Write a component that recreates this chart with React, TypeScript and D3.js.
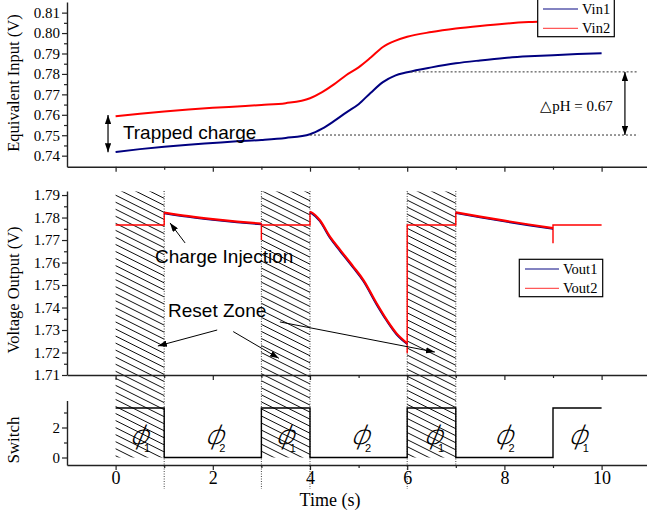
import React, { useRef, useEffect } from 'react';
import * as d3 from 'd3';

// top panel: equivalent input
const tIn = [0, 0.5, 1, 1.5, 2, 2.5, 3, 3.5, 4, 4.25, 4.5, 4.75, 5, 5.25, 5.5, 5.75, 6, 6.5, 7, 7.5, 8, 8.5, 9, 9.5, 10];
const vin1 = [0.7418, 0.7432, 0.7444, 0.7454, 0.7462, 0.747, 0.7477, 0.7487, 0.7505, 0.7532, 0.757, 0.7612, 0.7652, 0.7708, 0.776, 0.7792, 0.7808, 0.7832, 0.7852, 0.7866, 0.7878, 0.7886, 0.7892, 0.7897, 0.7901];
const vin2 = [0.7593, 0.7605, 0.7616, 0.7626, 0.7634, 0.7641, 0.7648, 0.7657, 0.7681, 0.7711, 0.775, 0.7795, 0.7832, 0.788, 0.7932, 0.7962, 0.7982, 0.8005, 0.8022, 0.8035, 0.8046, 0.8054, 0.8059, 0.8063, 0.8066];
const dpHLevels = [0.7501, 0.781];

// middle panel: voltage output
const holdLevel = 1.7767;
const decay1T = [1, 1.5, 2, 2.5, 3];
const decay1Vout1 = [1.7819, 1.7803, 1.779, 1.7779, 1.777];
const decay1Vout2 = [1.7822, 1.7806, 1.7793, 1.7782, 1.7773];
const decay2T = [4, 4.03, 4.2, 4.41, 4.62, 4.89, 5.1, 5.37, 5.58, 5.78, 6];
const decay2Vout1 = [1.7823, 1.7819, 1.7785, 1.771, 1.7651, 1.7577, 1.7517, 1.7414, 1.7341, 1.7281, 1.7238];
const decay2Vout2 = [1.7826, 1.7823, 1.7789, 1.7715, 1.7656, 1.7582, 1.7522, 1.7419, 1.7345, 1.7285, 1.7241];
const decay3T = [7, 7.5, 8, 8.5, 9];
const decay3Vout1 = [1.782, 1.7801, 1.7783, 1.7766, 1.775];
const decay3Vout2 = [1.7823, 1.7804, 1.7786, 1.7769, 1.7753];
const holdSegT = [[0, 1, 1], [3, 3, 3, 4, 4], [6, 6, 6, 7, 7], [9, 9, 9, 10]];
const holdSegV = [
  [holdLevel, holdLevel, 1.7822],
  [1.7773, 1.77, holdLevel, holdLevel, 1.7826],
  [1.7241, 1.7197, holdLevel, holdLevel, 1.7823],
  [1.7753, 1.7686, holdLevel, holdLevel],
];

// bottom panel: switch
const switchT = [0, 1, 1, 3, 3, 4, 4, 6, 6, 7, 7, 9, 9, 10];
const switchV = [3.3, 3.3, 0, 0, 3.3, 3.3, 0, 0, 3.3, 3.3, 0, 0, 3.3, 3.3];
const phaseCenters = [0.45, 2, 3.45, 5, 6.5, 7.95, 9.48];
const phaseIndex = ['1', '2', '1', '2', '1', '2', '1'];

const resetZones = [[0, 1], [3, 4], [6, 7]];
const dottedT = [1, 3, 4, 6, 7];

const xMajor = [0, 2, 4, 6, 8, 10];
const xMinor = [1, 3, 5, 7, 9];
const topMajor = [0.74, 0.75, 0.76, 0.77, 0.78, 0.79, 0.8, 0.81];
const topMinor = [0.745, 0.755, 0.765, 0.775, 0.785, 0.795, 0.805];
const midMajor = [1.71, 1.72, 1.73, 1.74, 1.75, 1.76, 1.77, 1.78, 1.79];
const midMinor = [1.715, 1.725, 1.735, 1.745, 1.755, 1.765, 1.775, 1.785];
const botMajor = [0, 2];
const botMinor = [1, 3];

const SERIF = 'Liberation Serif, Times New Roman, serif';
const SANS = 'Liberation Sans, Arial, sans-serif';
const NAVY = '#000080';
const RED = '#ff0000';

function App() {
  const svgRef = useRef<SVGSVGElement>(null);

  useEffect(() => {
    const svg = d3.select(svgRef.current);
    svg.selectAll('*').remove();

    const x = d3.scaleLinear().domain([-1, 11]).range([67, 650.2]);
    const yTop = d3.scaleLinear().domain([0.7346, 0.8152]).range([166.7, 2]);
    const yMid = d3.scaleLinear().domain([1.71, 1.7918]).range([375, 191]);
    const yBot = d3.scaleLinear().domain([-0.5, 3.8]).range([465, 400.5]);

    const defs = svg.append('defs');
    const pat = defs.append('pattern')
      .attr('id', 'hatch')
      .attr('patternUnits', 'userSpaceOnUse')
      .attr('width', 8)
      .attr('height', 6.3)
      .attr('patternTransform', 'rotate(26.57)');
    pat.append('line')
      .attr('x1', 0).attr('x2', 8).attr('y1', 3.15).attr('y2', 3.15)
      .attr('stroke', '#000').attr('stroke-width', 0.9);
    defs.append('marker')
      .attr('id', 'arrow')
      .attr('viewBox', '0 0 10 7')
      .attr('refX', 10).attr('refY', 3.5)
      .attr('markerWidth', 9).attr('markerHeight', 6.3)
      .attr('markerUnits', 'userSpaceOnUse')
      .attr('orient', 'auto-start-reverse')
      .append('path').attr('d', 'M0,0 L10,3.5 L0,7 Z').attr('fill', '#000');

    // hatched reset zones
    svg.append('g').selectAll('rect')
      .data(resetZones)
      .enter().append('rect')
      .attr('x', d => x(d[0]))
      .attr('width', d => x(d[1]) - x(d[0]))
      .attr('y', yMid.range()[1] + 0.5)
      .attr('height', yBot(0) - yMid.range()[1] - 0.5)
      .attr('fill', 'url(#hatch)');

    // dotted zone boundaries
    svg.append('g').selectAll('line')
      .data(dottedT)
      .enter().append('line')
      .attr('x1', d => x(d)).attr('x2', d => x(d))
      .attr('y1', yMid.range()[1]).attr('y2', d => (d === 7 ? yBot.range()[0] : 489))
      .attr('stroke', '#444').attr('stroke-width', 1).attr('stroke-dasharray', '1,1.5');

    const line = (ys: d3.ScaleLinear<number, number>, curve = d3.curveLinear) =>
      d3.line<[number, number]>().x(d => x(d[0])).y(d => ys(d[1])).curve(curve);
    const zip = (a: number[], b: number[]) => a.map((v, i) => [v, b[i]] as [number, number]);

    // top panel curves
    const topLine = line(yTop, d3.curveMonotoneX);
    svg.append('path').attr('d', topLine(zip(tIn, vin2))).attr('fill', 'none').attr('stroke', RED).attr('stroke-width', 2);
    svg.append('path').attr('d', topLine(zip(tIn, vin1))).attr('fill', 'none').attr('stroke', NAVY).attr('stroke-width', 2);

    // dpH guides
    const guideStart = [4, 6.07];
    dpHLevels.forEach((lv, i) => {
      svg.append('line')
        .attr('x1', x(guideStart[i])).attr('x2', x(10.75))
        .attr('y1', yTop(lv)).attr('y2', yTop(lv))
        .attr('stroke', '#333').attr('stroke-width', 1).attr('stroke-dasharray', '2,2');
    });
    svg.append('line')
      .attr('x1', x(10.48)).attr('x2', x(10.48))
      .attr('y1', yTop(dpHLevels[1])).attr('y2', yTop(dpHLevels[0]))
      .attr('stroke', '#000').attr('stroke-width', 1.2)
      .attr('marker-start', 'url(#arrow)').attr('marker-end', 'url(#arrow)');
    svg.append('text')
      .attr('x', x(10.23)).attr('y', yTop(0.7621))
      .attr('text-anchor', 'end').attr('font-family', SERIF).attr('font-size', 15)
      .text('△pH = 0.67');

    // trapped charge
    svg.append('line')
      .attr('x1', x(-0.156)).attr('x2', x(-0.156))
      .attr('y1', yTop(0.7599)).attr('y2', yTop(0.7417))
      .attr('stroke', '#000').attr('stroke-width', 1.2)
      .attr('marker-start', 'url(#arrow)').attr('marker-end', 'url(#arrow)');
    svg.append('text')
      .attr('x', x(0.15)).attr('y', yTop(0.7482))
      .attr('font-family', SANS).attr('font-size', 19)
      .text('Trapped charge');

    // middle panel curves
    const midLine = line(yMid, d3.curveMonotoneX);
    const midStep = line(yMid);
    holdSegT.forEach((ts, i) => {
      svg.append('path').attr('d', midStep(zip(ts, holdSegV[i])))
        .attr('fill', 'none').attr('stroke', RED).attr('stroke-width', 1.4);
    });
    [[decay1T, decay1Vout1, decay1Vout2], [decay2T, decay2Vout1, decay2Vout2], [decay3T, decay3Vout1, decay3Vout2]]
      .forEach(([ts, v1, v2]) => {
        svg.append('path').attr('d', midLine(zip(ts, v1))).attr('fill', 'none').attr('stroke', NAVY).attr('stroke-width', 2);
        svg.append('path').attr('d', midLine(zip(ts, v2))).attr('fill', 'none').attr('stroke', RED).attr('stroke-width', 2.2);
      });

    // annotations middle panel
    const arrows = [
      [1.43, 1.7687, 1.12, 1.7776],
      [2.09, 1.73, 0.87, 1.7229],
      [2.42, 1.7293, 3.36, 1.7174],
      [3.38, 1.7336, 6.57, 1.7202],
    ];
    arrows.forEach(a => {
      svg.append('line')
        .attr('x1', x(a[0])).attr('y1', yMid(a[1]))
        .attr('x2', x(a[2])).attr('y2', yMid(a[3]))
        .attr('stroke', '#000').attr('stroke-width', 1)
        .attr('marker-end', 'url(#arrow)');
    });
    svg.append('text')
      .attr('x', x(0.81)).attr('y', yMid(1.7598))
      .attr('font-family', SANS).attr('font-size', 19)
      .text('Charge Injection');
    svg.append('text')
      .attr('x', x(1.08)).attr('y', yMid(1.7356))
      .attr('font-family', SANS).attr('font-size', 19)
      .text('Reset Zone');

    // bottom panel switch
    svg.append('path').attr('d', line(yBot)(zip(switchT, switchV)))
      .attr('fill', 'none').attr('stroke', '#000').attr('stroke-width', 1.4);
    phaseCenters.forEach((t, i) => {
      svg.append('text')
        .attr('transform', `translate(${x(t) + 1},444) skewX(-22) scale(1.2,1)`)
        .attr('text-anchor', 'middle').attr('font-family', 'DejaVu Sans, sans-serif')
        .attr('font-weight', 200)
        .attr('font-size', 26)
        .text('ϕ');
      svg.append('text')
        .attr('x', x(t) + 6.5).attr('y', 451.5)
        .attr('font-family', SANS).attr('font-size', 11)
        .text(phaseIndex[i]);
    });

    // axes
    const styleAxis = (g: d3.Selection<SVGGElement, unknown, null, undefined>, size: number) => {
      g.attr('font-family', SERIF).attr('font-size', size);
      g.selectAll('line').attr('stroke', '#222').attr('stroke-width', 1.2);
      g.selectAll('path').attr('stroke', '#222').attr('stroke-width', 1.4);
      g.selectAll('text').attr('fill', '#000');
    };
    const drawY = (ys: d3.ScaleLinear<number, number>, major: number[], minor: number[], fmt: (d: number) => string) => {
      const gMin = svg.append('g').attr('transform', `translate(${x(-1)},0)`);
      gMin.call(d3.axisLeft(ys).tickValues(minor).tickSize(3).tickSizeOuter(0).tickFormat(() => ''));
      gMin.select('.domain').remove();
      styleAxis(gMin as any, 15);
      const gMaj = svg.append('g').attr('transform', `translate(${x(-1)},0)`);
      gMaj.call(d3.axisLeft(ys).tickValues(major).tickSize(5).tickSizeOuter(0).tickPadding(2).tickFormat(d => fmt(d as number)));
      styleAxis(gMaj as any, 15);
    };
    const drawX = (yPos: number, labels: boolean) => {
      const gMin = svg.append('g').attr('transform', `translate(0,${yPos})`);
      gMin.call(d3.axisBottom(x).tickValues(xMinor).tickSize(3).tickSizeOuter(0).tickFormat(() => ''));
      gMin.select('.domain').remove();
      styleAxis(gMin as any, 18);
      const gMaj = svg.append('g').attr('transform', `translate(0,${yPos})`);
      gMaj.call(d3.axisBottom(x).tickValues(xMajor).tickSize(5).tickSizeOuter(0).tickPadding(1.5)
        .tickFormat(d => (labels ? String(d) : '')));
      styleAxis(gMaj as any, 18);
    };
    drawY(yTop, topMajor, topMinor, d3.format('.2f'));
    drawY(yMid, midMajor, midMinor, d3.format('.2f'));
    drawY(yBot, botMajor, botMinor, d3.format('d'));
    drawX(yTop.range()[0], false);
    drawX(yMid.range()[0], false);
    drawX(yBot.range()[0], true);

    // axis titles
    const yTitle = (txt: string, cy: number, size: number) => {
      svg.append('text')
        .attr('transform', `translate(19,${cy}) rotate(-90)`)
        .attr('text-anchor', 'middle').attr('font-family', SERIF).attr('font-size', size)
        .text(txt);
    };
    yTitle('Equivalent Input (V)', 83, 16.5);
    yTitle('Voltage Output (V)', 290, 16.5);
    yTitle('Switch', 440, 17);
    svg.append('text')
      .attr('x', 330).attr('y', 506)
      .attr('text-anchor', 'middle').attr('font-family', SERIF).attr('font-size', 18)
      .text('Time (s)');

    // legends
    const legend = (x0: number, y0: number, w: number, h: number, items: [string, string][], rowY: number[], lineX: number[]) => {
      svg.append('rect').attr('x', x0).attr('y', y0).attr('width', w).attr('height', h)
        .attr('fill', '#fff').attr('stroke', '#000').attr('stroke-width', 1.2);
      items.forEach(([label, color], i) => {
        svg.append('line').attr('x1', lineX[0]).attr('x2', lineX[1]).attr('y1', rowY[i]).attr('y2', rowY[i])
          .attr('stroke', color).attr('stroke-width', 1.3).attr('stroke-opacity', 0.65);
        svg.append('text').attr('x', lineX[1] + 4).attr('y', rowY[i] + 5)
          .attr('font-family', SERIF).attr('font-size', 14.5).text(label);
      });
    };
    legend(537.7, -2, 76.6, 38.7, [['Vin1', NAVY], ['Vin2', RED]], [9, 28.3], [543, 578]);
    legend(519.3, 259.3, 83.4, 37.4, [['Vout1', NAVY], ['Vout2', RED]], [269, 288.3], [525, 559]);
  }, []);

  return (
    <svg ref={svgRef} width={647} height={516}
      style={{ position: 'absolute', left: 0, top: 0, background: '#fff' }} />
  );
}

export default App;
